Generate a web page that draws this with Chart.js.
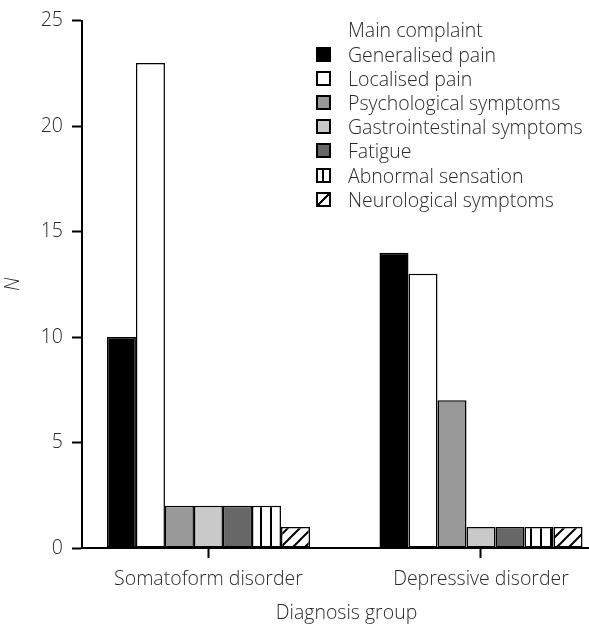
<!DOCTYPE html>
<html>
<head>
<meta charset="utf-8">
<script src="https://cdn.jsdelivr.net/npm/chart.js@4/dist/chart.umd.min.js"></script>
<style>
  body { margin: 0; background: #fff; overflow: hidden; }
  #wrap { position: relative; width: 589px; height: 624px; overflow: hidden; }
  #legend { position: absolute; left: 316px; top: 18px; font: 300 19.5px "Open Sans", sans-serif; color: #2a2a2a; white-space: nowrap; }
  #legend .title { padding-left: 32px; height: 24px; line-height: 24px; }
  #legend .row { display: flex; align-items: center; height: 24.2px; }
  #legend .box { width: 11px; height: 11px; border: 2px solid #000; margin-right: 17px; flex: none; }
</style>
</head>
<body>
<div id="wrap">
  <canvas id="myChart" width="611" height="624"></canvas>
  <div id="legend"></div>
</div>
<script>
var categories = ['Somatoform disorder', 'Depressive disorder'];
var complaints = ['Generalised pain', 'Localised pain', 'Psychological symptoms',
  'Gastrointestinal symptoms', 'Fatigue', 'Abnormal sensation', 'Neurological symptoms'];
var generalised = [10, 14];
var localised = [23, 13];
var psychological = [2, 7];
var gastro = [2, 1];
var fatigue = [2, 1];
var abnormal = [2, 1];
var neurological = [1, 1];
var yTicks = [0, 5, 10, 15, 20, 25];

function stripes() {
  var c = document.createElement('canvas');
  c.width = 10; c.height = 10;
  var g = c.getContext('2d');
  g.fillStyle = '#fff'; g.fillRect(0, 0, 10, 10);
  g.fillStyle = '#000'; g.fillRect(0, 0, 2, 10);
  return g.createPattern(c, 'repeat');
}
function hatch() {
  var s = 12;
  var c = document.createElement('canvas');
  c.width = s; c.height = s;
  var g = c.getContext('2d');
  g.fillStyle = '#fff'; g.fillRect(0, 0, s, s);
  g.strokeStyle = '#000'; g.lineWidth = 2;
  g.beginPath();
  g.moveTo(0, s); g.lineTo(s, 0);
  g.moveTo(-2, 2); g.lineTo(2, -2);
  g.moveTo(s - 2, s + 2); g.lineTo(s + 2, s - 2);
  g.stroke();
  return g.createPattern(c, 'repeat');
}

var series = [generalised, localised, psychological, gastro, fatigue, abnormal, neurological];
var fills = ['#000', '#fff', '#999', '#c9c9c9', '#676767', stripes(), hatch()];
var legendCss = ['#000', '#fff', '#999', '#c9c9c9', '#676767',
  'linear-gradient(to right, #fff 0 4.5px, #000 4.5px 6.5px, #fff 6.5px)',
  'linear-gradient(to bottom right, #fff 0 43%, #000 43% 57%, #fff 57%)'];

var datasets = series.map(function (vals, i) {
  return {
    label: complaints[i],
    data: vals.map(function (v, j) { return { x: j, y: v }; }),
    backgroundColor: fills[i],
    borderColor: '#000',
    borderWidth: 1.5,
    borderSkipped: false
  };
});

var font = { family: '"Open Sans", sans-serif', size: 19.5, weight: 300 };

new Chart('myChart', {
  type: 'bar',
  data: { datasets: datasets },
  options: {
    responsive: false,
    animation: false,
    categoryPercentage: 0.745,
    barPercentage: 1,
    layout: { padding: { top: 20, right: 0, left: 0, bottom: 0 } },
    plugins: { legend: { display: false }, tooltip: { enabled: false } },
    scales: {
      x: {
        type: 'linear',
        min: -0.464,
        max: 1.477,
        offset: false,
        border: { display: true, color: '#000', width: 2 },
        grid: { offset: false, drawOnChartArea: false, tickLength: 10, tickColor: '#000', tickWidth: 2 },
        ticks: {
          stepSize: 1,
          includeBounds: false,
          padding: 10,
          color: '#2a2a2a',
          font: font,
          callback: function (v) { return categories[v] || ''; }
        },
        title: {
          display: true, text: 'Diagnosis group', color: '#2a2a2a',
          font: { family: '"Open Sans", sans-serif', size: 19.5, weight: 300, lineHeight: 1.1 },
          padding: { top: 0, bottom: 0 }
        },
        afterFit: function (s) { s.height = 76; }
      },
      y: {
        min: 0,
        max: 25,
        border: { display: true, color: '#000', width: 2 },
        grid: { drawOnChartArea: false, tickLength: 10, tickColor: '#000', tickWidth: 2 },
        afterBuildTicks: function (s) { s.ticks = yTicks.map(function (v) { return { value: v }; }); },
        ticks: { padding: 9, color: '#2a2a2a', font: font },
        title: { display: true, text: 'N', color: '#2a2a2a', font: { family: '"Open Sans", sans-serif', size: 19.5, weight: 300, style: 'italic' }, padding: { top: 2 } },
        afterFit: function (s) { s.width = 82; }
      }
    }
  }
});

var leg = document.getElementById('legend');
var html = '<div class="title">Main complaint</div>';
complaints.forEach(function (name, i) {
  html += '<div class="row"><span class="box" style="background:' + legendCss[i] + '"></span>' + name + '</div>';
});
leg.innerHTML = html;
</script>
</body>
</html>
